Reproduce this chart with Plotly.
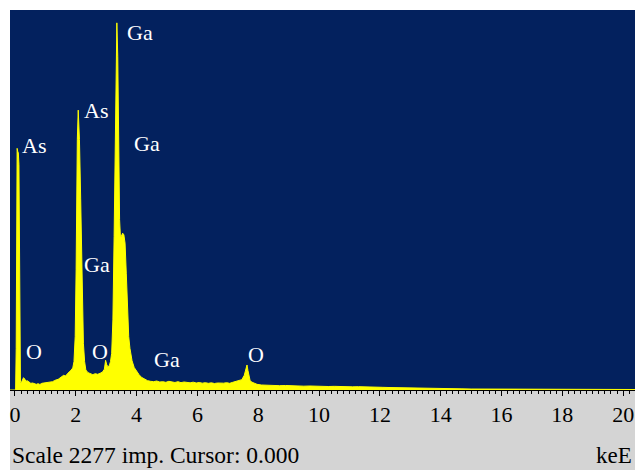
import plotly.graph_objects as go

# EDS spectrum (energy in keV, counts in impulses)
energy_kev = [
    -0.17, 0.02, 0.04, 0.05, 0.07, 0.09, 0.11, 0.13, 0.145, 0.16, 0.18, 0.20, 0.24, 0.28, 0.32,
    0.36, 0.40, 0.46, 0.52, 0.58, 0.64, 0.70, 0.76, 0.82, 0.88, 0.94, 1.00, 1.06,
    1.12, 1.18, 1.24, 1.30, 1.36, 1.42, 1.48, 1.54, 1.60, 1.66, 1.72, 1.78, 1.84,
    1.90, 1.94, 1.98, 2.01, 2.03, 2.05, 2.08, 2.12, 2.16, 2.19, 2.22, 2.25, 2.29,
    2.33, 2.40, 2.48, 2.56, 2.64, 2.72, 2.80, 2.88, 2.94, 2.98, 3.02, 3.06, 3.10,
    3.14, 3.18, 3.22, 3.26, 3.29, 3.32, 3.35, 3.38, 3.41, 3.44, 3.47, 3.50, 3.54,
    3.58, 3.62, 3.66, 3.70, 3.74, 3.78, 3.85, 3.92, 4.00, 4.08, 4.16, 4.26, 4.36,
    4.46, 4.56, 4.66, 4.76, 4.86, 4.96, 5.06, 5.16, 5.26, 5.36, 5.46, 5.56, 5.66,
    5.76, 5.86, 5.96, 6.06, 6.16, 6.26, 6.36, 6.46, 6.56, 6.66, 6.76, 6.86, 6.96,
    7.06, 7.16, 7.26, 7.36, 7.46, 7.54, 7.60, 7.63, 7.66, 7.69, 7.73, 7.78, 7.86,
    7.96, 8.10, 8.30, 8.50, 8.70, 8.90, 9.10, 9.30, 9.50, 9.70, 9.90, 10.10,
    10.30, 10.50, 10.70, 10.90, 11.10, 11.30, 11.50, 11.70, 11.90, 12.10, 12.30,
    12.50, 12.70, 12.90, 13.20, 13.50, 13.80, 14.10, 14.40, 14.70, 15.00, 15.30,
    15.60, 15.90, 16.20, 16.50, 16.80, 17.10, 17.40, 17.70, 18.00, 18.30, 18.60,
    18.90, 19.20, 19.50, 19.80, 20.10, 20.40,
]
counts = [
    0, 0, 250, 1380, 1448, 1430, 1420, 1350, 900, 120, 45, 40, 62, 74, 66,
    52, 56, 46, 40, 42, 36, 34, 38, 33, 40, 42, 44, 47,
    46, 52, 50, 57, 60, 64, 72, 78, 88, 84, 98, 108, 118,
    132, 170, 320, 720, 1150, 1500, 1677, 1500, 1150, 800, 460, 280, 170,
    120, 104, 96, 92, 98, 94, 100, 108, 125, 178, 150, 140, 145,
    170, 220, 420, 920, 1500, 2000, 2200, 2000, 1420, 1020, 910, 920, 940,
    930, 880, 700, 460, 320, 250, 175, 135, 110, 92, 76, 64, 56,
    52, 50, 54, 48, 50, 46, 52, 47, 45, 50, 44, 48, 46,
    43, 47, 42, 45, 41, 44, 40, 43, 39, 42, 40, 41, 44,
    40, 46, 50, 56, 62, 88, 125, 150, 118, 80, 58, 48, 40,
    34, 30, 28, 29, 26, 27, 25, 26, 23, 24, 22, 23,
    21, 22, 20, 21, 19, 20, 18, 19, 17, 16, 15,
    14, 13, 12, 10, 9, 8, 8, 7, 7, 6, 6,
    6, 5, 5, 5, 5, 4, 4, 4, 4, 4, 4,
    3, 3, 3, 3, 3, 3,
]

peak_labels = ["Ga", "As", "As", "Ga", "Ga", "O", "O", "Ga", "O"]
label_energy = [4.12, 2.65, 0.64, 4.33, 2.71, 0.62, 2.78, 4.99, 7.91]
label_counts = [2145, 1674, 1464, 1476, 752, 228, 228, 180, 210]

tick_values = [0, 2, 4, 6, 8, 10, 12, 14, 16, 18, 20]
tick_labels = ["0", "2", "4", "6", "8", "10", "12", "14", "16", "18", "20"]

scale_text = "Scale 2277 imp. Cursor: 0.000"
unit_text = "keE"
y_max = 2277

NAVY = "#03215E"
YELLOW = "#FFFF00"
GRAY = "#D4D4D4"
SERIF = "Liberation Serif, Times New Roman, serif"

fig = go.Figure()
fig.add_trace(go.Scatter(
    x=energy_kev, y=counts, mode="lines", fill="tozeroy",
    fillcolor=YELLOW, line=dict(color=YELLOW, width=1),
    hoverinfo="skip", showlegend=False,
))

for txt, ex, cy in zip(peak_labels, label_energy, label_counts):
    fig.add_annotation(x=ex, y=cy, text=txt, showarrow=False,
                       font=dict(family=SERIF, size=22, color="white"),
                       xanchor="center", yanchor="middle")

# gray status strip below the plot
fig.add_shape(type="rect", xref="paper", yref="paper",
              x0=0, x1=1, y0=-80 / 380, y1=0,
              fillcolor=GRAY, line=dict(width=0), layer="below")

fig.add_annotation(xref="paper", yref="paper", x=0, y=-65 / 380,
                   text=scale_text, showarrow=False, xanchor="left", yanchor="middle",
                   font=dict(family=SERIF, size=23.5, color="black"))
fig.add_annotation(xref="paper", yref="paper", x=1, y=-65 / 380, xshift=-1,
                   text=unit_text, showarrow=False, xanchor="right", yanchor="middle",
                   font=dict(family=SERIF, size=23, color="black"))

fig.update_layout(
    width=635, height=470,
    margin=dict(l=10, r=0, t=10, b=80, autoexpand=False),
    paper_bgcolor="white", plot_bgcolor=NAVY,
    showlegend=False,
    xaxis=dict(range=[-0.164, 20.39], tickmode="array", tickvals=tick_values,
               ticktext=tick_labels, ticks="outside", ticklen=5, tickcolor="black",
               tickwidth=1, showgrid=False, zeroline=False, showline=True,
               linecolor="black", linewidth=1, automargin=False,
               ticklabeloverflow="allow",
               tickfont=dict(family=SERIF, size=22, color="black"),
               minor=dict(dtick=0.2, tick0=0, ticks="outside", ticklen=3,
                          tickcolor="black", showgrid=False)),
    yaxis=dict(range=[0, y_max], showticklabels=False, showgrid=False,
               zeroline=False, ticks="", automargin=False),
)

# remove the browser's default 8 px body margin so the figure fills the window
fig.write_html(
    "out.html",
    config={"displayModeBar": False},
    post_script="document.body.style.margin='0';document.body.style.overflow='hidden';",
)
